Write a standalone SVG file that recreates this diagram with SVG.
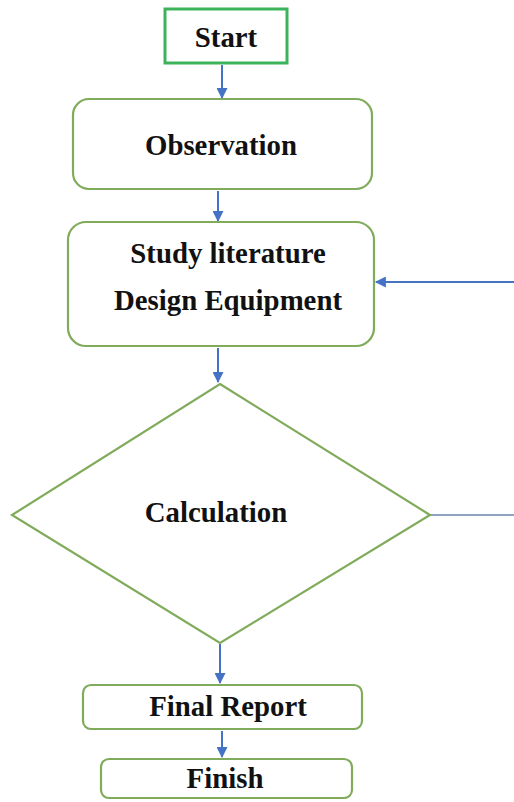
<svg xmlns="http://www.w3.org/2000/svg" width="514" height="802" viewBox="0 0 514 802">
<style>
.t{font-family:"Liberation Serif","Times New Roman",serif;font-weight:bold;font-size:28.8px;fill:#111;text-anchor:middle}
.n{fill:#fff;stroke:#7fab5a;stroke-width:2.2}
.c{stroke:#4472c4;stroke-width:2;fill:none}
</style>
<defs>
<marker id="ah" viewBox="0 0 10 10" refX="9" refY="5" markerWidth="6" markerHeight="5.5" orient="auto" markerUnits="strokeWidth">
<path d="M0,0 L10,5 L0,10 z" fill="#4472c4"/>
</marker>
</defs>
<rect width="514" height="802" fill="#fff"/>
<g id="connectors">
<line class="c" x1="222" y1="65" x2="222" y2="98" marker-end="url(#ah)"/>
<line class="c" x1="218" y1="191" x2="218" y2="221" marker-end="url(#ah)"/>
<line class="c" x1="218" y1="348" x2="218" y2="382" marker-end="url(#ah)"/>
<line class="c" x1="514" y1="282" x2="376" y2="282" stroke-width="2.5" marker-end="url(#ah)"/>
<line x1="430" y1="515" x2="514" y2="515" stroke="#6a86a8" stroke-width="1.3"/>
<line class="c" x1="220" y1="644" x2="220" y2="683" stroke-width="2.5" marker-end="url(#ah)"/>
<line class="c" x1="222" y1="731" x2="222" y2="757" stroke-width="3" marker-end="url(#ah)"/>
</g>
<g id="start">
<rect x="165" y="9" width="122" height="54" fill="#fff" stroke="#3cb35a" stroke-width="3"/>
<text class="t" x="226" y="47">Start</text>
</g>
<g id="observation">
<rect class="n" x="73" y="99" width="299" height="90" rx="16"/>
<text class="t" x="221" y="155">Observation</text>
</g>
<g id="study">
<rect class="n" x="68" y="222" width="306" height="124" rx="18"/>
<text class="t" x="228" y="263">Study literature</text>
<text class="t" x="228" y="310">Design Equipment</text>
</g>
<g id="calculation">
<polygon class="n" points="220,384 430,515 220,643 12,515"/>
<text class="t" x="216" y="522">Calculation</text>
</g>
<g id="final">
<rect class="n" x="83" y="685" width="279" height="44" rx="8"/>
<text class="t" x="228" y="716">Final Report</text>
</g>
<g id="finish">
<rect class="n" x="101" y="759" width="251" height="39" rx="8"/>
<text class="t" x="225" y="788">Finish</text>
</g>
</svg>
